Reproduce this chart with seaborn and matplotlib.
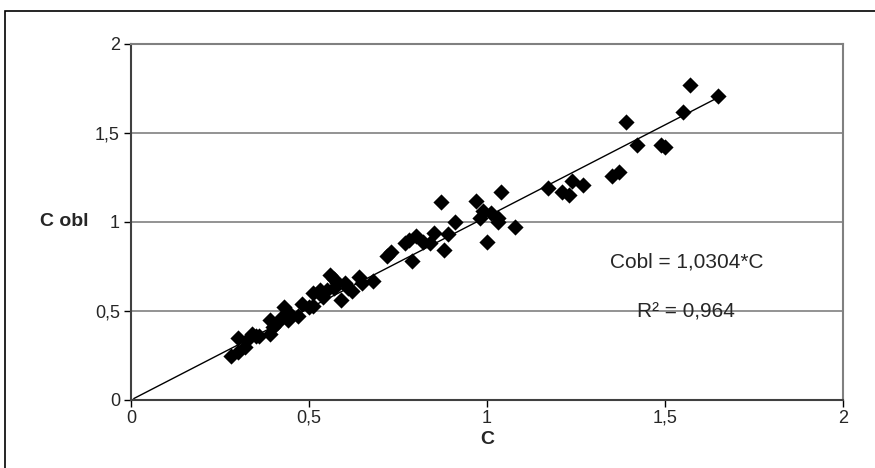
"""
C obl vs C scatter with forced-through-origin fit line
"""

import matplotlib
matplotlib.use("Agg")
import matplotlib.pyplot as plt
import matplotlib.patches as mpatches
import pandas as pd
import seaborn as sns

c = [0.28, 0.30, 0.30, 0.32, 0.33, 0.34, 0.35, 0.36, 0.39, 0.39, 0.40, 0.41,
     0.42, 0.43, 0.44, 0.45, 0.47, 0.48, 0.50, 0.51, 0.51, 0.53, 0.54, 0.55,
     0.56, 0.57, 0.57, 0.58, 0.59, 0.60, 0.61, 0.62, 0.64, 0.65, 0.68,
     0.72, 0.73, 0.77, 0.78, 0.79, 0.80, 0.82, 0.84, 0.85, 0.87, 0.88, 0.89,
     0.91, 0.97, 0.98, 0.99, 1.00, 1.01, 1.03, 1.03, 1.04, 1.08,
     1.17, 1.21, 1.23, 1.24, 1.27, 1.35, 1.37, 1.39, 1.42, 1.49, 1.50,
     1.55, 1.57, 1.65]
c_obl = [0.25, 0.27, 0.35, 0.30, 0.34, 0.37, 0.36, 0.36, 0.37, 0.45, 0.41, 0.43,
         0.46, 0.52, 0.45, 0.48, 0.47, 0.54, 0.52, 0.60, 0.53, 0.62, 0.58, 0.62,
         0.70, 0.68, 0.63, 0.66, 0.56, 0.66, 0.63, 0.61, 0.69, 0.66, 0.67,
         0.81, 0.83, 0.88, 0.90, 0.78, 0.92, 0.89, 0.88, 0.94, 1.11, 0.84, 0.93,
         1.00, 1.12, 1.02, 1.06, 0.89, 1.05, 1.00, 1.02, 1.17, 0.97,
         1.19, 1.17, 1.15, 1.23, 1.21, 1.26, 1.28, 1.56, 1.43, 1.43, 1.42,
         1.62, 1.77, 1.71]
slope = 1.0304
r2_text = "R² = 0,964"
eq_text = "Cobl = 1,0304*C"

df = pd.DataFrame({"C": c, "C obl": c_obl})
fit = pd.DataFrame({"C": [0, max(c)], "C obl": [0, slope * max(c)]})

sns.set_theme(style="white")
plt.rcParams["font.family"] = ["Liberation Sans", "DejaVu Sans"]

fig = plt.figure(figsize=(8.75, 4.68), dpi=100)
ax = fig.add_axes([131 / 875, 1 - 400 / 468, 712 / 875, 356 / 468])

for y in [0.5, 1.0, 1.5]:
    ax.axhline(y, color="#808080", lw=1.2, zorder=0)

sns.lineplot(data=fit, x="C", y="C obl", ax=ax, color="black", lw=1,
             zorder=2, marker="o", markersize=3)
sns.scatterplot(data=df, x="C", y="C obl", ax=ax, marker="D", s=68,
                color="black", linewidth=0, zorder=3)

ax.set_xlim(0, 2)
ax.set_ylim(0, 2)
ax.set_xticks([0, 0.5, 1, 1.5, 2])
ax.set_yticks([0, 0.5, 1, 1.5, 2])
ax.set_xticklabels(["0", "0,5", "1", "1,5", "2"])
ax.set_yticklabels(["0", "0,5", "1", "1,5", "2"])
ax.tick_params(axis="both", direction="out", length=5, width=1,
               color="black", labelsize=13, pad=3, left=True, bottom=True)
ax.tick_params(axis="x", pad=2)

for side in ["top", "right"]:
    ax.spines[side].set_color("#808080")
    ax.spines[side].set_linewidth(1.5)
for side in ["left", "bottom"]:
    ax.spines[side].set_color("#404040")
    ax.spines[side].set_linewidth(1.5)

ax.set_xlabel("C", fontsize=14, fontweight="bold")
ax.set_ylabel("C obl", fontsize=14, fontweight="bold", rotation=0,
              ha="center", va="center")
ax.xaxis.set_label_coords(0.501, -0.088)
ax.yaxis.set_label_coords(-0.094, 0.5)

ax.text(1.56, 0.775, eq_text, fontsize=15, ha="center", va="center")
ax.text(1.56, 0.494, r2_text, fontsize=15, ha="center", va="center")

# outer chart border
fig.patches.append(mpatches.Rectangle((5 / 875, -0.01), 1.0, 1 - 11 / 468 + 0.01,
                                      transform=fig.transFigure, fill=False,
                                      edgecolor="black", lw=1.2))

fig.savefig("out.png", dpi=100)
